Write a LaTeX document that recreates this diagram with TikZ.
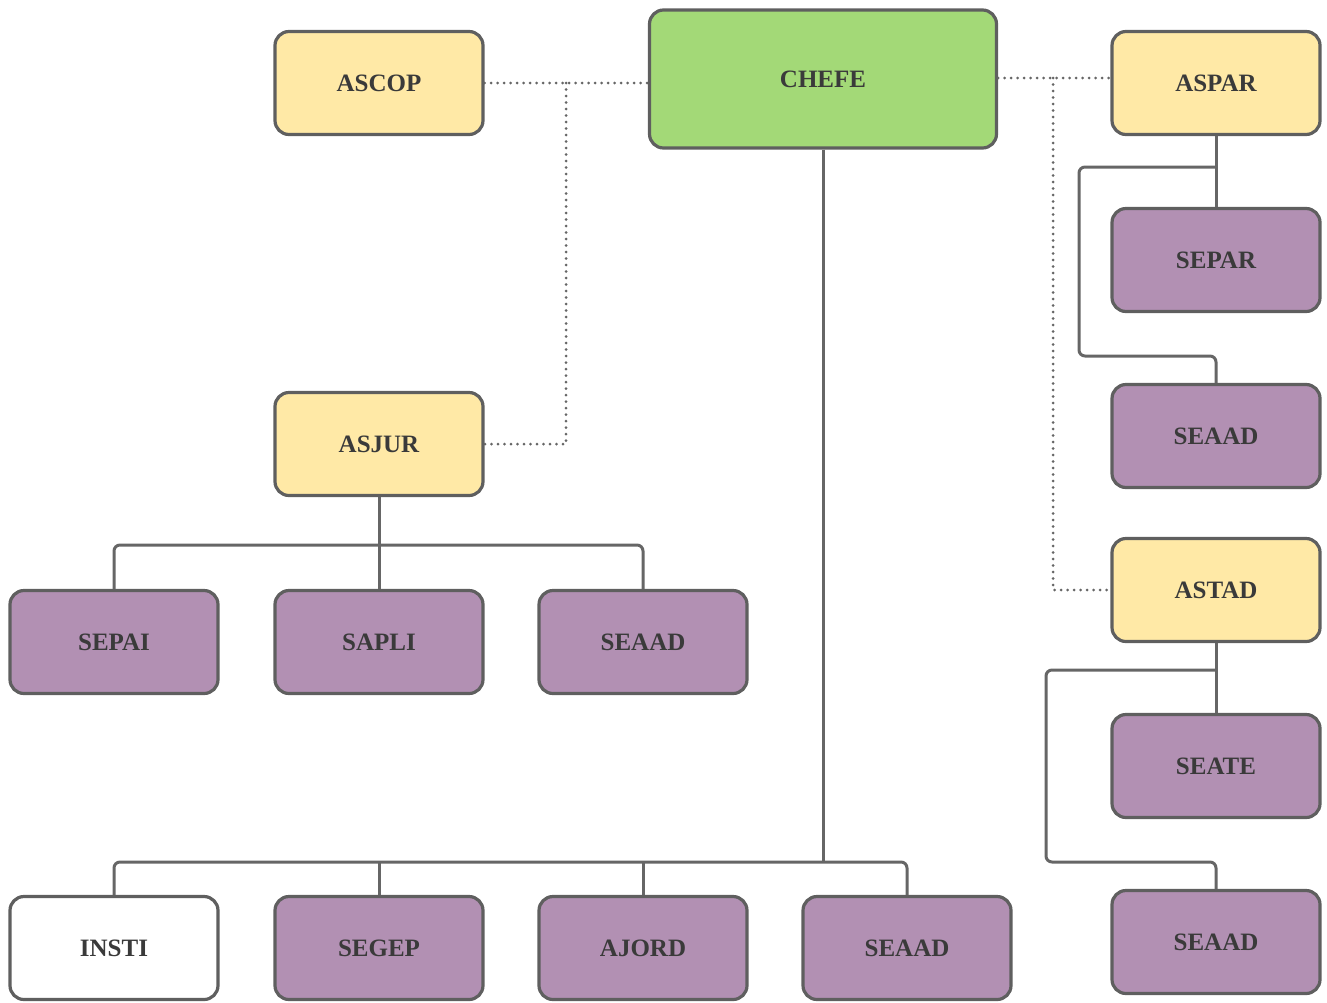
\documentclass[tikz,border=0pt]{standalone}
\usepackage{fontspec}
\setmainfont{Liberation Serif}
\definecolor{bordc}{HTML}{5F5F5F}
\definecolor{linec}{HTML}{666666}
\definecolor{txtc}{HTML}{3A3A3A}
\definecolor{yel}{HTML}{FFE9A6}
\definecolor{grn}{HTML}{A3D977}
\definecolor{pur}{HTML}{B290B3}
\begin{document}
\begin{tikzpicture}[x=1pt,y=-1pt,
  box/.style={draw=bordc,line width=3.2pt,rounded corners=14pt,minimum width=208pt,minimum height=103pt,inner sep=0pt,text=txtc,font=\fontsize{25}{29}\selectfont\bfseries},
  ybox/.style={box,fill=yel},
  pbox/.style={box,fill=pur},
  wbox/.style={box,fill=white},
  gbox/.style={box,fill=grn,minimum width=347pt,minimum height=138pt},
  conn/.style={draw=linec,line width=3pt,rounded corners=6pt},
  dot/.style={draw=linec,line width=3pt,line cap=round,dash pattern=on 0pt off 6.5pt}]
\useasboundingbox (0,0) rectangle (1327,1002);
\node[gbox] (chefe) at (823,79) {CHEFE};
\node[ybox] (ascop) at (379,83) {ASCOP};
\node[ybox] (aspar) at (1216,83) {ASPAR};
\node[pbox] (separ) at (1216,260) {SEPAR};
\node[pbox] (seaadr1) at (1216,436) {SEAAD};
\node[ybox] (astad) at (1216,590) {ASTAD};
\node[pbox] (seate) at (1216,766) {SEATE};
\node[pbox] (seaadr2) at (1216,942) {SEAAD};
\node[ybox] (asjur) at (379,444) {ASJUR};
\node[pbox] (sepai) at (114,642) {SEPAI};
\node[pbox] (sapli) at (379,642) {SAPLI};
\node[pbox] (seaada) at (643,642) {SEAAD};
\node[wbox] (insti) at (114,948) {INSTI};
\node[pbox] (segep) at (379,948) {SEGEP};
\node[pbox] (ajord) at (643,948) {AJORD};
\node[pbox] (seaadb) at (907,948) {SEAAD};
% dotted links
\coordinate (j1) at (566,83);
\coordinate (j2) at (1053,78);
\draw[dot] (ascop.east) -- (ascop.east -| chefe.west);
\draw[dot] (j1) |- (asjur.east);
\draw[dot] (chefe.east |- j2) -- (j2 -| aspar.west);
\draw[dot] (j2) |- (astad.west);
% solid links
\coordinate (b1) at (823,862);
\draw[conn] (chefe.south) -- (b1);
\draw[conn] (insti.north) |- (seaadb.north |- b1) -- (seaadb.north);
\draw[conn] (segep.north) -- (segep.north |- b1);
\draw[conn] (ajord.north) -- (ajord.north |- b1);
\coordinate (b2) at (379,545);
\draw[conn] (asjur.south) -- (sapli.north);
\draw[conn] (sepai.north) |- (seaada.north |- b2) -- (seaada.north);
\coordinate (b3) at (1216,167);
\coordinate (k3) at (1079,356);
\draw[conn] (aspar.south) -- (separ.north);
\draw[conn] (b3) -| (k3) -| (seaadr1.north);
\coordinate (b4) at (1216,670);
\coordinate (k4) at (1046,862);
\draw[conn] (astad.south) -- (seate.north);
\draw[conn] (b4) -| (k4) -| (seaadr2.north);
\end{tikzpicture}
\end{document}
